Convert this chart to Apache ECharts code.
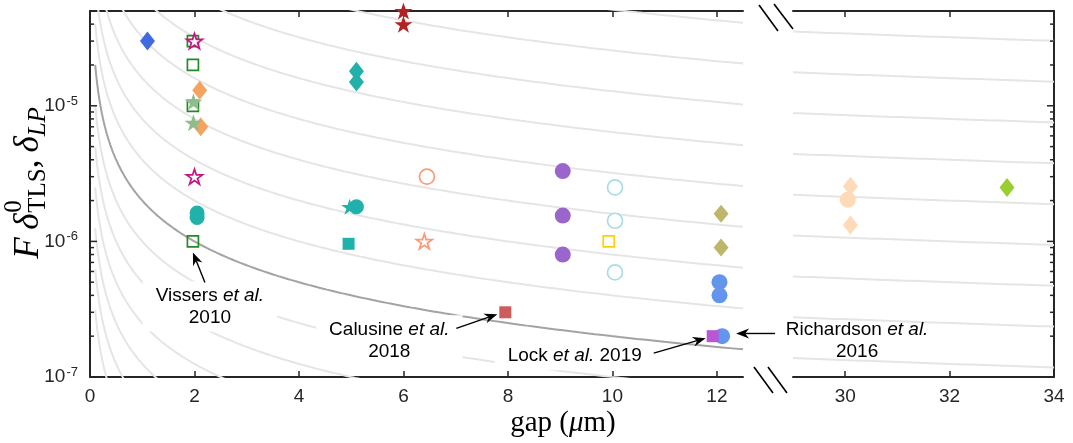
<!DOCTYPE html>
<html><head><meta charset="utf-8">
<script src="https://cdn.jsdelivr.net/npm/echarts@6.0.0/dist/echarts.min.js"></script>
<style>html,body{margin:0;padding:0;background:#fff}#c{width:1073px;height:443px}</style>
</head><body><div id="c"></div>
<script>
// ---------------- data ----------------
const xTicksLeft = [0, 2, 4, 6, 8, 10, 12];
const xTicksRight = [30, 32, 34];
const yMajorTicks = [1e-7, 1e-6, 1e-5];
const yMinorTicks = [2e-7,3e-7,4e-7,5e-7,6e-7,7e-7,8e-7,9e-7,2e-6,3e-6,4e-6,5e-6,6e-6,7e-6,8e-6,9e-6,2e-5,3e-5,4e-5,5e-5];

// guide iso-lines  y = c / gap
const guideCoefficients = [3.125e-8, 6.25e-8, 1.25e-7, 2.5e-7, 5e-7, 1e-6, 4e-6, 8e-6, 1.6e-5, 3.2e-5, 6.4e-5, 1.28e-4, 2.56e-4, 5.12e-4, 1.024e-3];
const highlightCoefficient = 2e-6;

const royalBlueDiamonds   = [[1.1, 3.0e-5]];
const greenOpenSquares    = [[1.97, 3.0e-5], [1.97, 2.0e-5], [1.97, 1.0e-5], [1.97, 1.0e-6]];
const magentaOpenStars    = [[2.0, 3.0e-5], [2.0, 3.0e-6]];
const orangeDiamonds      = [[2.1, 1.3e-5], [2.12, 7.0e-6]];
const sageStars           = [[1.98, 1.07e-5], [1.98, 7.5e-6]];
const tealCircles         = [[2.05, 1.62e-6], [2.05, 1.5e-6], [5.1, 1.8e-6]];
const tealDiamonds        = [[5.1, 1.8e-5], [5.1, 1.5e-5]];
const tealStars           = [[4.97, 1.8e-6]];
const tealSquares         = [[4.95, 9.6e-7]];
const redStars            = [[6.0, 5.0e-5], [6.0, 4.0e-5]];
const salmonOpenCircles   = [[6.45, 3.0e-6]];
const salmonOpenStars     = [[6.4, 1.0e-6]];
const purpleCircles       = [[9.05, 3.3e-6], [9.05, 1.55e-6], [9.05, 8.0e-7]];
const lightBlueOpenCircles= [[10.05, 2.5e-6], [10.05, 1.42e-6], [10.05, 5.9e-7]];
const goldOpenSquares     = [[9.93, 1.0e-6]];
const khakiDiamonds       = [[12.08, 1.6e-6], [12.08, 9.0e-7]];
const cornflowerCircles   = [[12.05, 5.0e-7], [12.05, 4.0e-7], [12.1, 2.0e-7]];
const indianRedSquares    = [[7.95, 3.0e-7]];
const orchidSquares       = [[11.92, 2.0e-7]];
const peachDiamonds       = [[30.1, 2.55e-6], [30.1, 1.32e-6]];
const peachCircles        = [[30.05, 2.03e-6]];
const yellowGreenDiamonds = [[33.1, 2.5e-6]];

// ---------------- chart ----------------
const AX = '#262626';
const SANS = '"Liberation Sans", Arial, sans-serif';
const SERIF = '"Liberation Serif", "DejaVu Serif", serif';
const STAR = 'path://M100,0L122.45,69.1L195.1,69.1L136.33,111.8L158.78,180.9L100,138.2L41.22,180.9L63.67,111.8L4.9,69.1L77.55,69.1Z';

const chart = echarts.init(document.getElementById('c'), null, {renderer: 'canvas'});

function sampleCurve(c, x0, x1, n) {
  const pts = [];
  for (let i = 0; i <= n; i++) { const x = x0 * Math.pow(x1 / x0, i / n); pts.push([x, c / x]); }
  return pts;
}

const series = [];
guideCoefficients.forEach(c => {
  series.push({type: 'line', xAxisIndex: 0, yAxisIndex: 0, data: sampleCurve(c, 0.1, 12.5, 300), symbol: 'none',
    lineStyle: {color: '#E5E5E5', width: 2}, silent: true, z: 1, clip: true});
  series.push({type: 'line', xAxisIndex: 2, yAxisIndex: 1, data: sampleCurve(c, 29, 34, 40), symbol: 'none',
    lineStyle: {color: '#E5E5E5', width: 2}, silent: true, z: 1, clip: true});
});
series.push({type: 'line', xAxisIndex: 0, yAxisIndex: 0, data: sampleCurve(highlightCoefficient, 0.1, 12.5, 300), symbol: 'none',
  lineStyle: {color: '#A3A3A3', width: 2}, silent: true, z: 1, clip: true});

function sc(data, symbol, size, color, open, right) {
  return {type: 'scatter', data, symbol, symbolSize: size, silent: true, z: 3,
    xAxisIndex: right ? 2 : 0, yAxisIndex: right ? 1 : 0,
    itemStyle: open ? {color: open === 'white' ? '#fff' : 'rgba(255,255,255,0)', borderColor: color, borderWidth: 1.7, opacity: 1}
                    : {color: color, opacity: 1}};
}
series.push(
  sc(greenOpenSquares, 'rect', 11, '#228B22', 'none'),
  sc(royalBlueDiamonds, 'diamond', [15, 19], '#4169E1'),
  sc(orangeDiamonds, 'diamond', [15, 19], '#F4A460'),
  sc(sageStars, STAR, [18, 17], '#8FBC8F'),
  sc(magentaOpenStars, STAR, [16, 15], '#C71585', 'white'),
  sc(tealCircles, 'circle', 15, '#20B2AA'),
  sc(tealDiamonds, 'diamond', [15, 19], '#20B2AA'),
  sc(tealStars, STAR, [17, 16], '#20B2AA'),
  sc(tealSquares, 'rect', 12, '#20B2AA'),
  sc(redStars, STAR, [18, 17], '#B22222'),
  sc(salmonOpenCircles, 'circle', 15, '#FA9A78', 'white'),
  sc(salmonOpenStars, STAR, [16, 15], '#FA9A78', 'white'),
  sc(purpleCircles, 'circle', 16, '#9A66CC'),
  sc(lightBlueOpenCircles, 'circle', 15, '#A8DCE6', 'white'),
  sc(goldOpenSquares, 'rect', 11, '#FFD000', 'none'),
  sc(khakiDiamonds, 'diamond', [15, 18], '#BDB76B'),
  sc(cornflowerCircles, 'circle', 16, '#6495ED'),
  sc(indianRedSquares, 'rect', 12, '#CD5C5C'),
  sc(orchidSquares, 'rect', 12, '#BA55D3'),
  sc(peachDiamonds, 'diamond', [15, 19], '#FFDAB9', null, true),
  sc(peachCircles, 'circle', 16, '#FFDAB9', null, true),
  sc(yellowGreenDiamonds, 'diamond', [15, 19], '#9ACD32', null, true)
);

// y-axis ticks (major + minor) drawn inward through the axis scale
function tickSeries(xEdge, dir, xi, yi) {
  const data = yMajorTicks.map(v => [xEdge, v, 1]).concat(yMinorTicks.map(v => [xEdge, v, 0]));
  return {type: 'custom', xAxisIndex: xi, yAxisIndex: yi, data, silent: true, z: 2, clip: false,
    renderItem: (params, api) => {
      const p = api.coord([api.value(0), api.value(1)]);
      const len = api.value(2) ? 7 : 4;
      return {type: 'line', shape: {x1: p[0], y1: p[1], x2: p[0] + dir * len, y2: p[1]},
        style: {stroke: AX, lineWidth: 1.5}};
    }};
}
series.push(tickSeries(0, 1, 0, 0), tickSeries(34, -1, 2, 1));

const axisLine = {show: true, onZero: false, lineStyle: {color: AX, width: 2}};
function xAx(grid, pos, min, max, ticks, labels) {
  return {gridIndex: grid, type: 'value', position: pos, min, max,
    axisLine, splitLine: {show: false},
    axisTick: {show: true, inside: true, length: 6, customValues: ticks, lineStyle: {color: AX, width: 1.5}},
    axisLabel: labels ? {show: true, customValues: labels, fontSize: 19, color: AX, fontFamily: SANS, margin: 10} : {show: false}};
}

const option = {
  animation: false,
  backgroundColor: '#fff',
  grid: [
    {left: 90, top: 11, width: 653, height: 366},
    {left: 793, top: 11, width: 261, height: 366}
  ],
  xAxis: [
    xAx(0, 'bottom', 0, 12.5, xTicksLeft, xTicksLeft),
    xAx(0, 'top', 0, 12.5, xTicksLeft.slice(1), null),
    xAx(1, 'bottom', 29, 34, xTicksRight, xTicksRight),
    xAx(1, 'top', 29, 34, xTicksRight, null)
  ],
  yAxis: [
    {gridIndex: 0, type: 'log', min: 1e-7, max: 5e-5, position: 'left', axisLine, splitLine: {show: false},
      axisTick: {show: false},
      axisLabel: {show: true, margin: 12, color: AX,
        formatter: v => { const e = Math.log10(v); const r = Math.round(e); if (Math.abs(e - r) > 1e-6) return ''; return '{b|10}{s|' + r + '}'; },
        rich: {b: {fontSize: 19, fontFamily: SANS, color: AX, lineHeight: 22},
               s: {fontSize: 13, fontFamily: SANS, color: AX, verticalAlign: 'top', lineHeight: 13, padding: [0, 0, 0, 1]}}}},
    {gridIndex: 1, type: 'log', min: 1e-7, max: 5e-5, position: 'right', axisLine, splitLine: {show: false},
      axisTick: {show: false}, axisLabel: {show: false}}
  ],
  series
};
chart.setOption(option);

// ---------------- annotations / titles ----------------
function px(pt) { return chart.convertToPixel({xAxisIndex: 0, yAxisIndex: 0}, pt); }
function arrow(tail, tip) {
  const dx = tip[0] - tail[0], dy = tip[1] - tail[1], d = Math.hypot(dx, dy);
  const ux = dx / d, uy = dy / d, nx = -uy, ny = ux;
  const L = 13, W = 5, N = 9;
  const bx = tip[0] - L * ux, by = tip[1] - L * uy;
  return [
    {type: 'line', shape: {x1: tail[0], y1: tail[1], x2: tip[0] - N * ux, y2: tip[1] - N * uy}, style: {stroke: '#000', lineWidth: 1.4}, z: 100},
    {type: 'polygon', shape: {points: [[tip[0], tip[1]], [bx + W * nx, by + W * ny], [tip[0] - N * ux, tip[1] - N * uy], [bx - W * nx, by - W * ny]]},
      style: {fill: '#000'}, z: 101}
  ];
}
const richAnn = {n: {fontSize: 19, fontFamily: SANS, color: '#000', lineHeight: 22},
                 it: {fontSize: 19, fontFamily: SANS, fontStyle: 'italic', color: '#000', lineHeight: 22}};
function ann(x, y, text, bg) {
  return {type: 'text', x, y, z: 90,
    style: {text, rich: richAnn, align: 'center', verticalAlign: 'middle',
      backgroundColor: bg ? '#fff' : null, padding: bg ? [3, 13] : 0}};
}

const vis = px(greenOpenSquares[3]);
const cal = px(indianRedSquares[0]);
const lk = px(orchidSquares[0]);
const rc = px(cornflowerCircles[2]);

const graphics = [];
graphics.push(ann(vis[0] + 17, vis[1] + 65, '{n|Vissers }{it|et al.}\n{n|2010}', true));
graphics.push(ann(cal[0] - 116, cal[1] + 28, '{n|Calusine }{it|et al.}\n{n|2018}', true));
graphics.push(ann(lk[0] - 138, lk[1] + 20, '{n|Lock }{it|et al.}{n| 2019}', true));
graphics.push(ann(rc[0] + 135, rc[1] + 5, '{n|Richardson }{it|et al.}\n{n|2016}', false));
graphics.push(...arrow([vis[0] + 12, vis[1] + 41], [vis[0], vis[1] + 11]));
graphics.push(...arrow([cal[0] - 49, cal[1] + 16], [cal[0] - 8, cal[1] + 2]));
graphics.push(...arrow([lk[0] - 59, lk[1] + 17], [lk[0] - 7, lk[1] + 2]));
graphics.push(...arrow([rc[0] + 53, rc[1] - 2.7], [rc[0] + 14, rc[1] - 2.7]));

// axis break marks
const brk = {stroke: '#000', lineWidth: 1.6};
[[759, 5, 778, 31], [774, 4, 793, 29], [754, 367, 773, 393], [768, 367, 787, 393]].forEach(l => {
  graphics.push({type: 'line', shape: {x1: l[0], y1: l[1], x2: l[2], y2: l[3]}, style: brk, z: 100});
});

// x-axis title
graphics.push({type: 'text', x: 563, y: 423, z: 90,
  style: {text: '{r|gap (}{i|\u03bc}{r|m)}', align: 'center', verticalAlign: 'middle',
    rich: {r: {fontSize: 29, fontFamily: SERIF, color: '#000'}, i: {fontSize: 29, fontFamily: SERIF, fontStyle: 'italic', color: '#000'}}}});

// y-axis title (rotated, built from pieces)
(function () {
  const S = 35, s = 25;
  const ctx = document.createElement('canvas').getContext('2d');
  const w = (t, f) => { ctx.font = f; return ctx.measureText(t).width; };
  const fI = 'italic ' + S + 'px ' + SERIF, fR = S + 'px ' + SERIF, fsR = s + 'px ' + SERIF, fsI = 'italic ' + s + 'px ' + SERIF;
  const parts = [];
  let x = 0;
  parts.push({t: 'F', f: fI, x, dy: 0}); x += w('F', fI) + 0.22 * S;
  parts.push({t: '\u03b4', f: fI, x, dy: 0}); x += w('\u03b4', fI) + 0.02 * S;
  parts.push({t: '0', f: fsR, x, dy: -0.42 * S});
  parts.push({t: 'TLS', f: fsR, x, dy: 0.28 * S}); x += Math.max(w('0', fsR), w('TLS', fsR));
  parts.push({t: ',', f: fR, x, dy: 0}); x += w(',', fR) + 0.2 * S;
  parts.push({t: '\u03b4', f: fI, x, dy: 0}); x += w('\u03b4', fI);
  parts.push({t: 'LP', f: fsI, x, dy: 0.28 * S}); x += w('LP', fsI);
  const total = x;
  graphics.push({type: 'group', x: 29, y: 183, rotation: Math.PI / 2, z: 90,
    children: parts.map(p => ({type: 'text', x: p.x - total / 2, y: p.dy,
      style: {text: p.t, font: p.f, fill: '#000', align: 'left', verticalAlign: 'middle'}}))});
})();

chart.setOption({graphic: graphics});
</script></body></html>
